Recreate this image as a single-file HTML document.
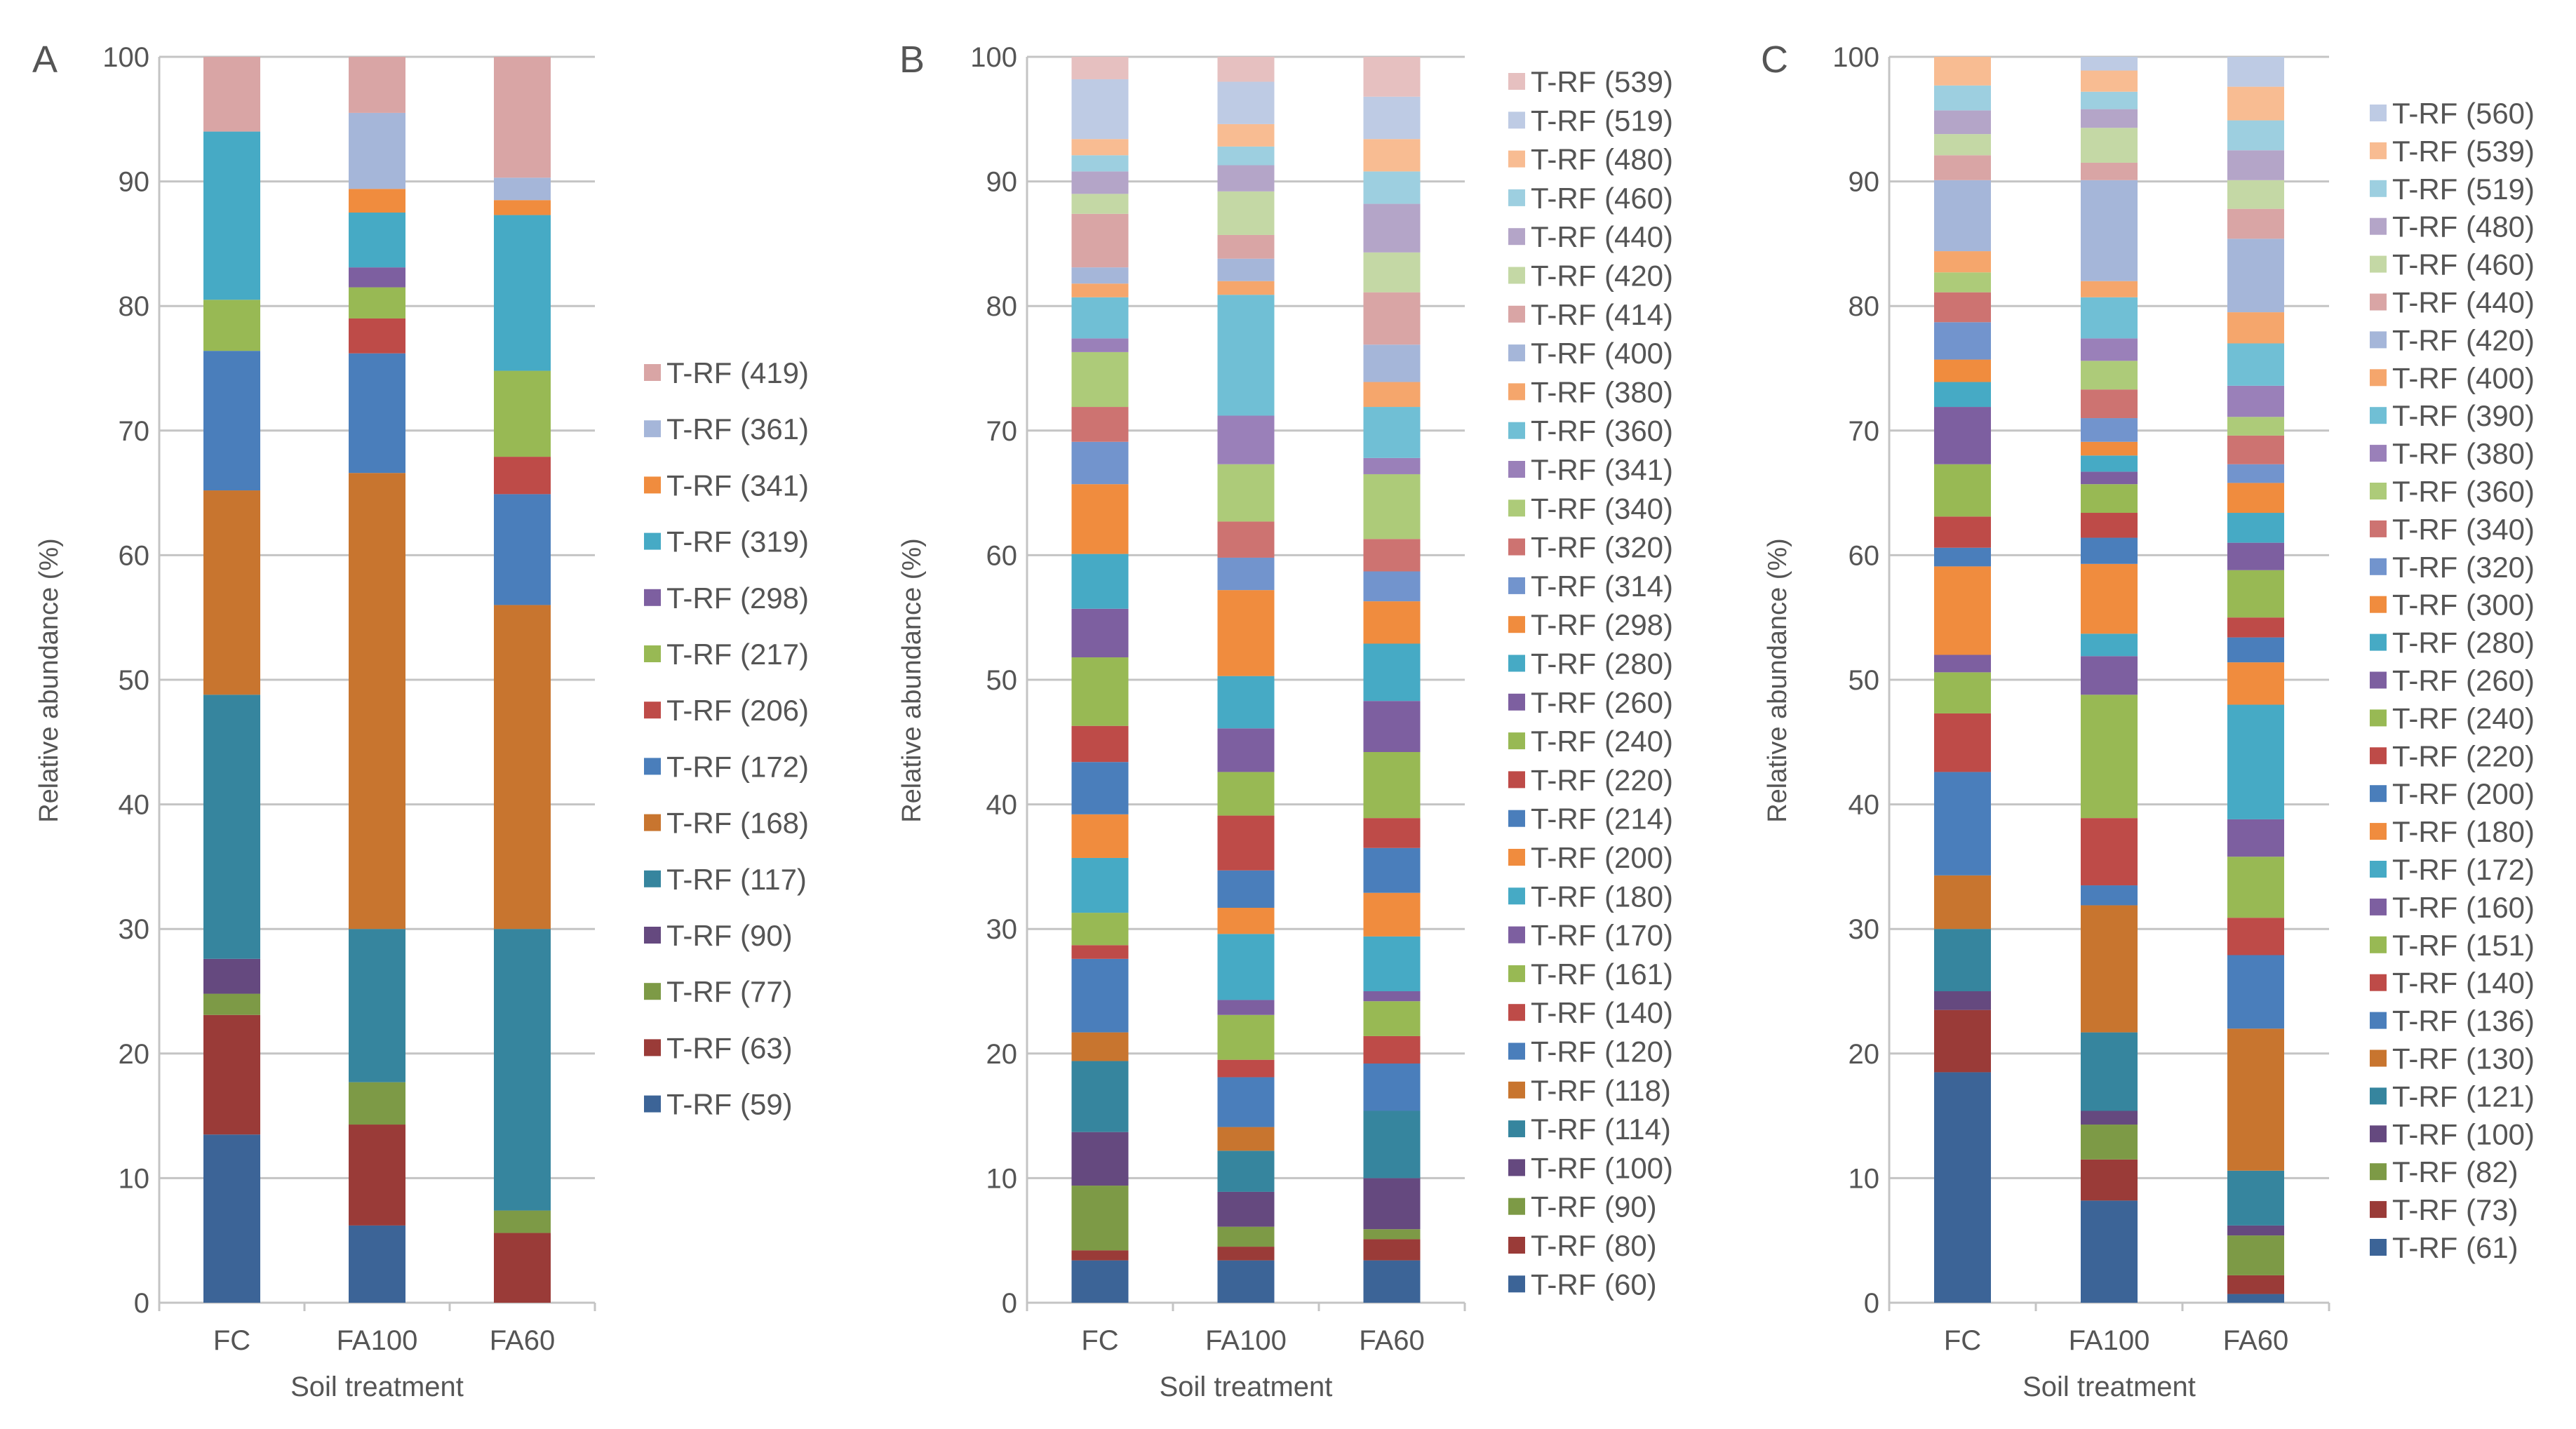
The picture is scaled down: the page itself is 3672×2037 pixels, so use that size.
<!DOCTYPE html>
<html><head><meta charset="utf-8"><style>
html,body{margin:0;padding:0;background:#fff}
svg text{font-family:"Liberation Sans",sans-serif;fill:#555}
</style></head><body>
<svg id="chart" width="3672" height="2032" viewBox="0 0 3672 2032" xmlns="http://www.w3.org/2000/svg"></svg>
<script>
const categories = ["FC","FA100","FA60"];
const yTicks = [0,10,20,30,40,50,60,70,80,90,100];

const seriesA = ["59","63","77","90","117","168","172","206","217","298","319","341","361","419"];
const valuesA_FC = [13.5,9.6,1.7,2.8,21.2,16.4,11.2,0,4.1,0,13.5,0,0,6];
const valuesA_FA100 = [6.2,8.1,3.4,0,12.3,36.6,9.6,2.8,2.5,1.6,4.4,1.9,6.1,4.5];
const valuesA_FA60 = [0,5.6,1.8,0,22.6,26,8.9,3,6.9,0,12.5,1.2,1.8,9.7];

const seriesB = ["60","80","90","100","114","118","120","140","161","170","180","200","214","220","240","260","280","298","314","320","340","341","360","380","400","414","420","440","460","480","519","539"];
const valuesB_FC = [3.4,0.8,5.2,4.3,5.7,2.3,5.9,1.1,2.6,0,4.4,3.5,4.2,2.9,5.5,3.9,4.4,5.6,3.4,2.8,4.4,1.1,3.3,1.1,1.3,4.3,1.6,1.8,1.3,1.3,4.8,1.8];
const valuesB_FA100 = [3.4,1.1,1.6,2.8,3.3,1.9,4,1.4,3.6,1.2,5.3,2.1,3,4.4,3.5,3.5,4.2,6.9,2.6,2.9,4.6,3.9,9.7,1.1,1.8,1.9,3.5,2.1,1.5,1.8,3.4,2];
const valuesB_FA60 = [3.4,1.7,0.8,4.1,5.4,0,3.8,2.2,2.8,0.8,4.4,3.5,3.6,2.4,5.3,4.1,4.6,3.4,2.4,2.6,5.2,1.3,4.1,2,3,4.2,3.2,3.9,2.6,2.6,3.4,3.2];

const seriesC = ["61","73","82","100","121","130","136","140","151","160","172","180","200","220","240","260","280","300","320","340","360","380","390","400","420","440","460","480","519","539","560"];
const valuesC_FC = [18.5,5,0,1.5,5,4.3,8.3,4.7,3.3,1.4,0,7.1,1.5,2.5,4.2,4.6,2,1.8,3,2.4,1.6,0,0,1.7,5.7,2,1.7,1.9,2,2.3,0];
const valuesC_FA100 = [8.2,3.3,2.8,1.1,6.3,10.2,1.6,5.4,9.9,3.1,1.8,5.6,2.1,2,2.3,1,1.3,1.1,1.9,2.3,2.3,1.8,3.3,1.3,8.1,1.4,2.8,1.5,1.4,1.7,1.1];
const valuesC_FA60 = [0.7,1.5,3.2,0.8,4.4,11.4,5.9,3,4.9,3,9.2,3.4,2,1.6,3.8,2.2,2.4,2.4,1.5,2.3,1.5,2.5,3.4,2.5,5.9,2.4,2.3,2.4,2.4,2.7,2.4];

const dark=["#3C6497","#9A3B38","#7D9A46","#65497F","#36859E","#C8752F"];
const base=["#4A7EBB","#BE4B48","#98B954","#7D5FA0","#46AAC5","#F08C3E"];
const light=["#7294CD","#CD7371","#ADCB79","#9A80B9","#70BFD5","#F5A66C"];
const lighter=["#A5B6D9","#D9A5A5","#C4D8A5","#B4A5C8","#9DCFE0","#F8BC92"];
const lightest=["#BECBE4","#E6C0C0","#D5E3C0","#C9BFD8","#BDDDE8","#FACCB0"];
function colorB(i){const g=Math.floor(i/6),k=i%6;return [dark,base,base,light,lighter,lightest][g][k];}
function colorA(i){const g=Math.floor(i/6),k=i%6;return [dark,base,lighter][g][k];}

const NS="http://www.w3.org/2000/svg";
const svg=document.getElementById("chart");
function el(tag,attrs,parent){const e=document.createElementNS(NS,tag);for(const k in attrs)e.setAttribute(k,attrs[k]);(parent||svg).appendChild(e);return e;}
const Y0=1857,Y100=81;
function yScale(v){return Y0-(Y0-Y100)*v/100;}

function panel(p){
  const g=el("g",{});
  
  
  const t=el("text",{x:p.letterX,y:103,"font-size":54,fill:"#333"},g);t.textContent=p.letter;
  
  
  yTicks.forEach(v=>{
    const y=yScale(v);
    const gl=el("line",{x1:p.x0,x2:p.x1,y1:y,y2:y,stroke:"#c4c4c4","stroke-width":3},g);
    
    
    const tl=el("text",{x:p.x0-14,y:y+14,"font-size":40,"text-anchor":"end"},g);tl.textContent=v;
    
    
  });
  const ax=el("line",{x1:p.x0,x2:p.x0,y1:Y100,y2:Y0,stroke:"#c4c4c4","stroke-width":3},g);
  
  
  const step=(p.x1-p.x0)/categories.length;
  for(let i=0;i<=categories.length;i++){
    const tk=el("line",{x1:p.x0+i*step,x2:p.x0+i*step,y1:Y0,y2:Y0+12,stroke:"#c4c4c4","stroke-width":3},g);
    
    
  }
  const bw=81;
  categories.forEach((c,ci)=>{
    const cx=p.x0+step*(ci+0.5);
    let cum=0;
    p.values[ci].forEach((v,si)=>{
      if(v<=0)return;
      const r=el("rect",{x:cx-bw/2,y:yScale(cum+v),width:bw,height:yScale(cum)-yScale(cum+v),fill:p.color(si)},g);
      
      
      cum+=v;
    });
    const xl=el("text",{x:cx,y:1924,"font-size":40,"text-anchor":"middle"},g);xl.textContent=c;
    
    
  });
  const xt=el("text",{x:(p.x0+p.x1)/2,y:1990,"font-size":40,"text-anchor":"middle"},g);xt.textContent="Soil treatment";
  
  
  const yt=el("text",{x:0,y:0,"font-size":38,"text-anchor":"middle",transform:`translate(${p.ytX},970) rotate(-90)`},g);yt.textContent="Relative abundance (%)";
  
  
  const n=p.series.length;
  for(let k=0;k<n;k++){
    const si=n-1-k;
    const y=p.legY+k*p.legStep;
    const lg=el("g",{},g);
    
    
    el("rect",{x:p.legX,y:y-13,width:24,height:24,fill:p.color(si)},lg);
    const lt=el("text",{x:p.legX+32,y:y+14,"font-size":42},lg);lt.textContent="T-RF ("+p.series[si]+")";
  }
}
panel({letter:"A",letterX:46,x0:227,x1:848,ytX:82,series:seriesA,values:[valuesA_FC,valuesA_FA100,valuesA_FA60],color:colorA,legX:918,legY:532,legStep:80.2});
panel({letter:"B",letterX:1282,x0:1464,x1:2088,ytX:1312,series:seriesB,values:[valuesB_FC,valuesB_FA100,valuesB_FA60],color:colorB,legX:2150,legY:117,legStep:55.3});
panel({letter:"C",letterX:2510,x0:2693,x1:3320,ytX:2546,series:seriesC,values:[valuesC_FC,valuesC_FA100,valuesC_FA60],color:colorB,legX:3378,legY:162,legStep:53.9});
</script>
</body></html>
